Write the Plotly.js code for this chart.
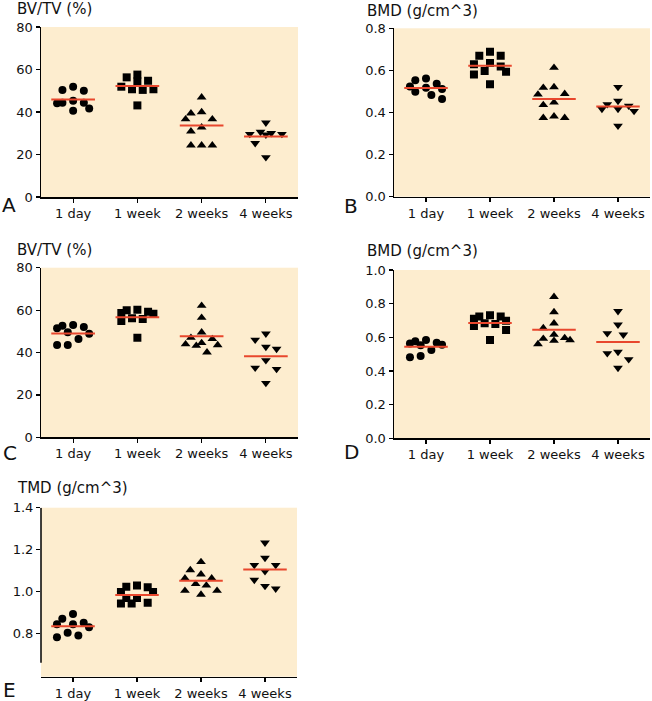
<!DOCTYPE html>
<html>
<head>
<meta charset="utf-8">
<script src="https://cdn.plot.ly/plotly-3.0.1.min.js"></script>
<style>html,body{margin:0;padding:0;background:#fff;}#chart{width:652px;height:701px;}</style>
</head>
<body>
<div id="chart"></div>
<script>
// ---------- data ----------
const categories = ["1 day", "1 week", "2 weeks", "4 weeks"];

const bvtvA_1day   = [50.4, 50.0, 51.9, 44.1, 44.4, 44.4, 45.3, 40.6, 41.6];
const bvtvA_1week  = [54.4, 56.3, 57.6, 54.7, 50.7, 50.4, 50.7, 51.9, 43.1];
const bvtvA_2weeks = [46.9, 39.4, 40.0, 36.6, 36.6, 32.8, 30.9, 24.3, 24.3, 24.3];
const bvtvA_4weeks = [35.0, 30.6, 29.3, 30.0, 29.6, 29.6, 25.3, 18.7];

const bmdB_1day   = [0.553, 0.562, 0.524, 0.537, 0.518, 0.512, 0.499, 0.483, 0.464];
const bmdB_1week  = [0.689, 0.670, 0.670, 0.635, 0.629, 0.619, 0.594, 0.597, 0.581, 0.534];
const bmdB_2weeks = [0.613, 0.521, 0.518, 0.489, 0.486, 0.448, 0.436, 0.382, 0.375, 0.375];
const bmdB_4weeks = [0.521, 0.455, 0.417, 0.432, 0.407, 0.439, 0.417, 0.337];

const bvtvC_1day   = [53.0, 52.0, 52.6, 51.4, 49.5, 48.9, 46.4, 43.5, 43.5];
const bvtvC_1week  = [60.2, 59.2, 59.9, 58.6, 55.8, 54.9, 56.1, 58.3, 47.0];
const bvtvC_2weeks = [62.1, 56.4, 49.5, 46.4, 43.5, 44.5, 43.9, 47.0, 43.2, 40.1];
const bvtvC_4weeks = [48.9, 46.0, 41.7, 42.6, 36.3, 32.8, 32.2, 25.6];

const bmdD_1day   = [0.584, 0.568, 0.576, 0.564, 0.556, 0.553, 0.525, 0.481, 0.489];
const bmdD_1week  = [0.723, 0.731, 0.723, 0.711, 0.679, 0.667, 0.683, 0.699, 0.644, 0.584];
const bmdD_2weeks = [0.841, 0.750, 0.683, 0.655, 0.616, 0.584, 0.596, 0.592, 0.580, 0.560];
const bmdD_4weeks = [0.755, 0.675, 0.616, 0.624, 0.513, 0.505, 0.469, 0.418];

const tmdE_1day   = [0.892, 0.870, 0.844, 0.851, 0.844, 0.829, 0.803, 0.781, 0.790];
const tmdE_1week  = [1.023, 1.029, 1.020, 0.997, 0.997, 0.946, 0.943, 0.943, 0.969, 0.969];
const tmdE_2weeks = [1.141, 1.102, 1.082, 1.063, 1.063, 1.036, 1.029, 1.004, 1.004, 0.985];
const tmdE_4weeks = [1.233, 1.160, 1.126, 1.126, 1.096, 1.055, 1.013, 1.026];

const titles = ["BV/TV (%)", "BMD (g/cm^3)", "BV/TV (%)", "BMD (g/cm^3)", "TMD (g/cm^3)"];
const letters = ["A", "B", "C", "D", "E"];

// ---------- layout config ----------
const W = 652, H = 701;
const panels = [
  {groups:[bvtvA_1day,bvtvA_1week,bvtvA_2weeks,bvtvA_4weeks], box:[41,298,27,197], range:[0,80], tickvals:[0,20,40,60,80], fmt:"d",
   titlePos:[15,9], letterPos:[0,205]},
  {groups:[bmdB_1day,bmdB_1week,bmdB_2weeks,bmdB_4weeks], box:[394,650,28.3,196.7], range:[0,0.8], tickvals:[0,0.2,0.4,0.6,0.8], fmt:".1f",
   titlePos:[365,10.5], letterPos:[342,206]},
  {groups:[bvtvC_1day,bvtvC_1week,bvtvC_2weeks,bvtvC_4weeks], box:[41,298,267.7,437.3], range:[0,80], tickvals:[0,20,40,60,80], fmt:"d",
   titlePos:[15,250], letterPos:[1,453]},
  {groups:[bmdD_1day,bmdD_1week,bmdD_2weeks,bmdD_4weeks], box:[394,650,270,438.3], range:[0,1.0], tickvals:[0,0.2,0.4,0.6,0.8,1.0], fmt:".1f",
   titlePos:[365,251.5], letterPos:[342,452]},
  {groups:[tmdE_1day,tmdE_1week,tmdE_2weeks,tmdE_4weeks], box:[41,297,507.7,676.7], range:[0.593,1.4], tickvals:[0.8,1.0,1.2,1.4], fmt:".1f",
   titlePos:[15,488], letterPos:[1,690], yLineFrom:0.66}
];
const symbols = ["circle", "square", "triangle-up", "triangle-down"];
const sizes = [8, 8, 8.5, 8.5];
const RED = "#e8472d";
const FONT = "DejaVu Sans, Arial, sans-serif";

// deterministic column-scatter layout (grid of lanes, overlap-minimising); x offsets in pixels
function scatterLanes(values, pxPerUnit, D, step, maxK) {
  const n = values.length;
  const order = values.map((v, i) => i).sort((a, b) => values[b] - values[a]);
  const placed = [];
  const off = new Array(n).fill(0);
  const lanes = [0];
  for (let k = 1; k <= maxK; k++) { lanes.push(-k * step, k * step); }
  order.forEach(i => {
    const y = values[i] * pxPerUnit;
    let best = 0, bestCost = Infinity;
    lanes.forEach(x => {
      let c = 0.02 * Math.abs(x);
      placed.forEach(p => {
        const d = Math.hypot(x - p.x, y - p.y);
        if (d < D) c += (D - d) * (D - d);
      });
      if (c < bestCost - 1e-9) { bestCost = c; best = x; }
    });
    placed.push({x: best, y: y});
    off[i] = best;
  });
  return off;
}

const data = [];
const layout = {
  width: W, height: H,
  margin: {l: 0, r: 0, t: 0, b: 0},
  paper_bgcolor: "#ffffff",
  plot_bgcolor: "#fdedcf",
  showlegend: false,
  font: {family: FONT, size: 13, color: "#000"},
  annotations: [],
  shapes: []
};

panels.forEach((p, k) => {
  const sfx = k === 0 ? "" : String(k + 1);
  const xa = "x" + sfx, ya = "y" + sfx;
  const [x0, x1, y0, y1] = p.box;
  const pxPerCat = (x1 - x0) / 4;
  const pxPerUnit = (y1 - y0) / (p.range[1] - p.range[0]);

  p.groups.forEach((vals, g) => {
    const offs = scatterLanes(vals, pxPerUnit, 10.7, 5.35, 3);
    data.push({
      type: "scatter", mode: "markers", xaxis: xa, yaxis: ya,
      x: vals.map((v, i) => g + offs[i] / pxPerCat),
      y: vals,
      marker: {symbol: symbols[g], size: sizes[g], color: "#000"},
      hoverinfo: "y"
    });
  });
  p.groups.forEach((vals, g) => {
    const m = vals.reduce((a, b) => a + b, 0) / vals.length;
    data.push({
      type: "scatter", mode: "lines", xaxis: xa, yaxis: ya,
      x: [g - 0.34, g + 0.34], y: [m, m],
      line: {color: RED, width: 2}, hoverinfo: "skip"
    });
  });

  layout["xaxis" + sfx] = {
    domain: [x0 / W, x1 / W], anchor: ya,
    range: [-0.5, 3.5], tickvals: [0, 1, 2, 3], ticktext: categories,
    showgrid: false, zeroline: false, showline: true, linecolor: "#000", linewidth: 1.5,
    ticks: "outside", ticklen: 4, tickwidth: 1.2, tickcolor: "#000",
    tickfont: {family: FONT, size: 13, color: "#111"}, fixedrange: true
  };
  const useShapeLine = p.yLineFrom !== undefined;
  layout["yaxis" + sfx] = {
    domain: [1 - y1 / H, 1 - y0 / H], anchor: xa,
    range: p.range, tickvals: p.tickvals, tickformat: p.fmt,
    showgrid: false, zeroline: false, showline: !useShapeLine, linecolor: "#000", linewidth: 1.5,
    ticks: "outside", ticklen: 4, tickwidth: 1.2, tickcolor: "#000",
    tickfont: {family: FONT, size: 13, color: "#111"}, fixedrange: true
  };
  if (useShapeLine) {
    layout.shapes.push({type: "line", xref: xa + " domain", yref: ya,
      x0: 0, x1: 0, y0: p.yLineFrom, y1: p.range[1],
      line: {color: "#000", width: 1.5}});
  }
  layout.annotations.push({
    xref: "paper", yref: "paper", x: p.titlePos[0] / W, y: 1 - p.titlePos[1] / H,
    xanchor: "left", yanchor: "middle", showarrow: false,
    text: titles[k], font: {family: FONT, size: 15, color: "#111"}
  });
  layout.annotations.push({
    xref: "paper", yref: "paper", x: p.letterPos[0] / W, y: 1 - p.letterPos[1] / H,
    xanchor: "left", yanchor: "middle", showarrow: false,
    text: letters[k], font: {family: FONT, size: 20, color: "#111"}
  });
});

Plotly.newPlot("chart", data, layout, {displayModeBar: false, staticPlot: true});
</script>
</body>
</html>
